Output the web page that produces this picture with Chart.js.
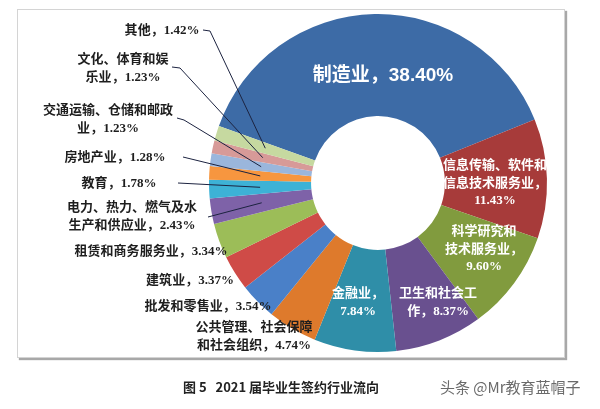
<!DOCTYPE html>
<html><head><meta charset="utf-8">
<script src="https://cdn.jsdelivr.net/npm/chart.js@4/dist/chart.umd.min.js"></script>
<style>
html,body{margin:0;padding:0;background:#fff;width:600px;height:409px;overflow:hidden;}
#frame{position:absolute;left:17px;top:9px;width:546px;height:347px;border:1px solid #d4d4d4;box-shadow:2px 2px 1px #a8a8a8;background:#fff;}
#wrap{position:absolute;left:0;top:0;width:600px;height:409px;}
#cap{position:absolute;left:183px;top:378px;font:bold 13px "Noto Sans CJK SC",sans-serif;color:#222;white-space:pre;line-height:18px;}
#wm{position:absolute;left:440px;top:378px;font:15px "Noto Sans CJK SC",sans-serif;color:#6a6a6a;white-space:pre;line-height:18px;}
</style>
</head><body>
<div id="frame"></div>
<div id="wrap"><canvas id="c" width="600" height="409"></canvas></div>
<div id="cap">图 5   2021 届毕业生签约行业流向</div>
<div id="wm">头条 @Mr教育蓝帽子</div>
<script>
const categories = ['制造业','信息传输、软件和信息技术服务业','科学研究和技术服务业','卫生和社会工作','金融业','公共管理、社会保障和社会组织','批发和零售业','建筑业','租赁和商务服务业','电力、热力、燃气及水生产和供应业','教育','房地产业','交通运输、仓储和邮政业','文化、体育和娱乐业','其他'];
const values = [38.40, 11.43, 9.60, 8.37, 7.84, 4.74, 3.54, 3.37, 3.34, 2.43, 1.78, 1.28, 1.23, 1.23, 1.42];
const labelTemplates = ['制造业，{v}','信息传输、软件和\n信息技术服务业，\n{v}','科学研究和\n技术服务业，\n{v}','卫生和社会工\n作，{v}','金融业，\n{v}','公共管理、社会保障\n和社会组织，{v}','批发和零售业，{v}','建筑业，{v}','租赁和商务服务业，{v}','电力、热力、燃气及水\n生产和供应业，{v}','教育，{v}','房地产业，{v}','交通运输、仓储和邮政\n业，{v}','文化、体育和娱\n乐业，{v}','其他，{v}'];
const colors = ['#3D6BA6','#A73B3A','#819B3E','#69508F','#2F8EA8','#DE7A2C','#4A80C8','#CF4B47','#9CBD58','#7E62A8','#3DB2D6','#F7963F','#9AB6DC','#D79A98','#C6D9A0'];

// layout for labels: [centerX, firstLineY, style]
const labelLayout = [
  [383,76,'big'],[495,166,'in'],[484,232,'in'],[438,294,'in'],[358,294,'in'],
  [254,328,'out'],[208,307,'out'],[190,281,'out'],[151,252,'out'],[132,208,'out'],
  [119,184,'out'],[115,158,'out'],[108,111,'out'],[123,60,'out'],[162,31,'out']
];
const leaders = {9:[[208,217]],10:[[178,183]],11:[[183,157]],12:[[177,118],[184,120]],13:[[172,67],[180,68]],14:[[203,30],[210,31]]};

const labelPlugin = {
  id:'labels',
  afterDatasetsDraw(chart){
    const ctx = chart.ctx;
    const arcs = chart.getDatasetMeta(0).data;
    ctx.save();
    // leader lines
    ctx.strokeStyle = '#1c2340';
    ctx.lineWidth = 1;
    Object.keys(leaders).forEach(k=>{
      const a = arcs[k];
      const mid = (a.startAngle + a.endAngle)/2;
      const r = (a.innerRadius + a.outerRadius)/2;
      const ex = a.x + Math.cos(mid)*r, ey = a.y + Math.sin(mid)*r;
      const pts = leaders[k];
      ctx.beginPath();
      ctx.moveTo(pts[0][0], pts[0][1]);
      for (let i=1;i<pts.length;i++) ctx.lineTo(pts[i][0], pts[i][1]);
      ctx.lineTo(ex, ey);
      ctx.stroke();
    });
    ctx.textAlign = 'center';
    ctx.textBaseline = 'middle';
    values.forEach((v,i)=>{
      const [x,y,style] = labelLayout[i];
      const lines = labelTemplates[i].replace('{v}', v.toFixed(2)+'%').split('\n');
      if (style==='big'){
        ctx.font = 'bold 19px "Liberation Sans","Noto Sans CJK SC",sans-serif';
        ctx.fillStyle = '#ffffff';
      } else if (style==='in'){
        ctx.font = 'bold 13px "Liberation Serif","Noto Sans CJK SC",serif';
        ctx.fillStyle = '#ffffff';
      } else {
        ctx.font = 'bold 13px "Liberation Serif","Noto Sans CJK SC",serif';
        ctx.fillStyle = '#1e1e1e';
      }
      lines.forEach((ln,j)=>ctx.fillText(ln, x, y + j*17.5));
    });
    ctx.restore();
  }
};

new Chart(document.getElementById('c'), {
  type:'doughnut',
  data:{labels:categories, datasets:[{data:values, backgroundColor:colors, borderWidth:0, hoverOffset:0, offset:0}]},
  options:{
    responsive:false, animation:false, events:[],
    rotation:-70.3, cutout:'39.6%',
    layout:{padding:{left:209,right:53,top:14,bottom:57}},
    plugins:{legend:{display:false}, tooltip:{enabled:false}}
  },
  plugins:[labelPlugin]
});
</script>
</body></html>
